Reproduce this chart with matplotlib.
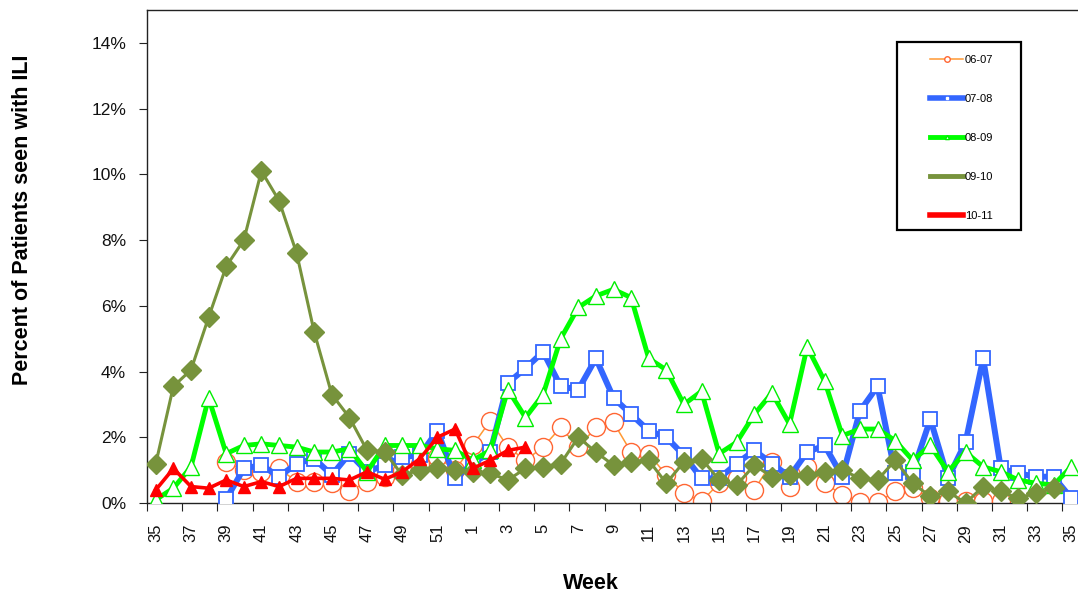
import numpy as np
import matplotlib
matplotlib.use('Agg')
import matplotlib.pyplot as plt
from matplotlib.lines import Line2D
from matplotlib.patches import Rectangle

plt.rcParams['font.family'] = ['Liberation Sans', 'DejaVu Sans']

# week categories: 35..52 then 1..35
weeks = list(range(35, 53)) + list(range(1, 36))

# season values, percent of patients with ILI (None = no data)
s0607 = [None, None, None, None, 1.25, 1.0, 0.95, 1.05, 0.65, 0.65, 0.6, 0.35, 0.65, 0.8, 1.0,
         1.2, 1.4, 1.0, 1.75, 2.5, 1.7, 1.3, 1.7, 2.3, 1.7, 2.3, 2.45, 1.55, 1.5, 0.85,
         0.3, 0.05, 0.6, 0.75, 0.4, 1.25, 0.5, 1.1, 0.6, 0.25, 0.02, 0.02, 0.35, 0.45, 0.15,
         0.05, 0.05, 0.05, 0.05, None, None, None, None]
s0708 = [None, None, None, None, 0.12, 1.05, 1.15, 0.8, 1.2, 1.35, 0.85, 1.5, 0.95, 1.15, 1.4,
         1.45, 2.2, 0.75, 1.2, 1.55, 3.65, 4.1, 4.6, 3.55, 3.45, 4.4, 3.2, 2.7, 2.2, 2.0,
         1.45, 0.75, 0.75, 1.2, 1.6, 1.2, 0.8, 1.55, 1.75, 0.8, 2.8, 3.55, 0.9, 0.95, 2.55,
         0.75, 1.85, 4.4, 1.05, 0.9, 0.8, 0.8, 0.15]
s0809 = [0.1, 0.45, 1.1, 3.2, 1.5, 1.75, 1.8, 1.75, 1.7, 1.55, 1.55, 1.65, 0.95, 1.75, 1.75,
         1.75, 1.65, 1.6, 1.3, 1.6, 3.45, 2.6, 3.3, 5.0, 5.95, 6.3, 6.5, 6.25, 4.4, 4.05,
         3.0, 3.4, 1.5, 1.85, 2.7, 3.35, 2.4, 4.75, 3.7, 2.05, 2.25, 2.25, 1.9, 1.3, 1.75,
         0.95, 1.55, 1.1, 0.95, 0.7, 0.6, 0.55, 1.1]
s0910 = [1.2, 3.55, 4.05, 5.65, 7.2, 8.0, 10.1, 9.2, 7.6, 5.2, 3.3, 2.6, 1.6, 1.55, 0.85,
         1.0, 1.05, 1.0, 0.95, 0.9, 0.7, 1.05, 1.1, 1.2, 2.0, 1.55, 1.15, 1.25, 1.3, 0.6,
         1.25, 1.35, 0.7, 0.55, 1.15, 0.8, 0.85, 0.85, 0.95, 1.0, 0.75, 0.7, 1.3, 0.6, 0.2,
         0.35, 0.0, 0.5, 0.35, 0.15, 0.3, 0.45, None]
s1011 = [0.4, 1.05, 0.5, 0.45, 0.7, 0.5, 0.65, 0.5, 0.75, 0.75, 0.75, 0.7, 0.95, 0.72, 0.95,
         1.35, 2.0, 2.25, 1.05, 1.3, 1.6, 1.7]


def arr(vals):
    return np.array([np.nan if v is None else v for v in vals], dtype=float)


fig = plt.figure(figsize=(10.78, 5.95), dpi=100)
ax = fig.add_axes([147 / 1078, 92 / 595, 933 / 1078, 493 / 595])

x = np.arange(len(weeks))

ax.plot(x, arr(s0607), color='#FF9933', lw=1.1, marker='o', ms=13,
        mfc='white', mec='#FF6633', mew=1.0, zorder=2)
ax.plot(x, arr(s0708), color='#3366FF', lw=4.3, marker='s', ms=10,
        mfc='white', mec='#3366FF', mew=1.3, zorder=3)
ax.plot(x, arr(s0809), color='#00FF00', lw=3.5, marker='^', ms=12,
        mfc='white', mec='#00EE00', mew=1.0, zorder=4)
ax.plot(x, arr(s0910), color='#77933C', lw=2.2, marker='D', ms=10.5,
        mfc='#77933C', mec='#77933C', zorder=5)
ax.plot(np.arange(len(s1011)), arr(s1011), color='#FF0000', lw=2.6, marker='^', ms=9,
        mfc='#FF0000', mec='#FF0000', zorder=6)

ax.set_xlim(-0.5, len(weeks) - 0.5)
ax.set_ylim(0, 15)
ax.set_yticks(np.arange(0, 15, 2))
ax.set_yticklabels([f'{v}%' for v in range(0, 15, 2)], fontsize=12.5, color='#111111')

ax.set_xticks(np.arange(-0.5, len(weeks), 2))
ax.set_xticklabels([])
ax.set_xticks(x[::2], minor=True)
ax.set_xticklabels([str(w) for w in weeks[::2]], minor=True, rotation=90, fontsize=12,
                   color='#111111')
ax.tick_params(axis='x', which='minor', length=0, pad=15)
ax.tick_params(axis='x', which='major', length=6, direction='out', color='#222222')
ax.tick_params(axis='y', length=6, direction='out', pad=9, color='#222222')

ax.spines['right'].set_visible(False)
for s in ['left', 'top', 'bottom']:
    ax.spines[s].set_color('#222222')
    ax.spines[s].set_linewidth(1.0)

ax.set_xlabel('Week', fontsize=15.5, fontweight='bold')
ax.xaxis.set_label_coords(0.476, -0.141)
ax.set_ylabel('Percent of Patients seen with ILI', fontsize=15.5, fontweight='bold')
ax.yaxis.set_label_coords(-0.122, 0.574)

# legend box
fig.patches.append(Rectangle((897 / 1078, 1 - 230 / 595), 124 / 1078, 188 / 595,
                             transform=fig.transFigure, fill=False, edgecolor='black',
                             lw=1.6, zorder=10))
handles = [
    Line2D([], [], color='#FF9933', lw=1.1, marker='o', ms=4, mfc='white', mec='#FF6633'),
    Line2D([], [], color='#3366FF', lw=4, marker='s', ms=2, mfc='white', mec='white'),
    Line2D([], [], color='#00FF00', lw=3.5, marker='^', ms=3, mfc='white', mec='#00EE00'),
    Line2D([], [], color='#77933C', lw=3.5),
    Line2D([], [], color='#FF0000', lw=4),
]
labels = ['06-07', '07-08', '08-09', '09-10', '10-11']
fig.legend(handles, labels, loc='upper left', bbox_to_anchor=(930 / 1078, 1 - 55 / 595),
           frameon=False, fontsize=8, handlelength=3.0, handletextpad=0.15,
           labelspacing=2.6, borderpad=0, borderaxespad=0)

fig.savefig('out.png', dpi=100)
